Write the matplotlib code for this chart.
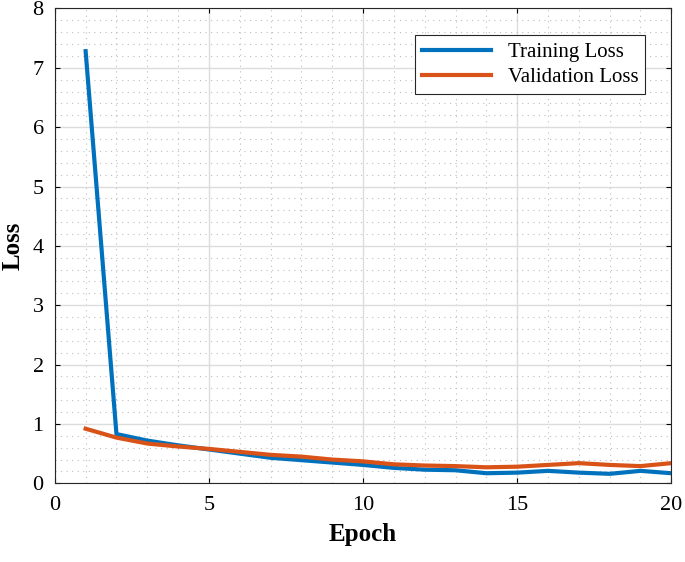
import matplotlib
matplotlib.use("Agg")
import matplotlib.pyplot as plt
from matplotlib.ticker import MultipleLocator

epochs = list(range(1, 21))
train_loss = [7.28, 0.83, 0.72, 0.64, 0.57, 0.50, 0.43, 0.39, 0.35, 0.31,
              0.26, 0.23, 0.22, 0.17, 0.18, 0.21, 0.18, 0.16, 0.21, 0.17]
val_loss = [0.92, 0.77, 0.67, 0.62, 0.58, 0.53, 0.48, 0.45, 0.40, 0.37,
            0.32, 0.30, 0.29, 0.27, 0.28, 0.31, 0.34, 0.31, 0.29, 0.34]

plt.rcParams["font.family"] = "Liberation Serif"
fig = plt.figure(figsize=(6.85, 5.62), dpi=100)
ax = fig.add_axes([0.08, 0.14, 0.90, 0.845])

ax.plot(epochs, train_loss, color="#0072BD", lw=3, label="Training Loss")
ax.plot(epochs, val_loss, color="#D95319", lw=3, label="Validation Loss")

ax.set_xlim(0, 20)
ax.set_ylim(0, 8)
ax.xaxis.set_major_locator(MultipleLocator(5))
ax.xaxis.set_minor_locator(MultipleLocator(1))
ax.yaxis.set_major_locator(MultipleLocator(1))
ax.yaxis.set_minor_locator(MultipleLocator(0.2))
ax.grid(which="major", color="#dcdcdc", lw=1)
ax.grid(which="minor", color="#bdbdbd", lw=0.8, ls=(0, (1, 4)))
ax.set_axisbelow(True)
ax.tick_params(which="both", direction="in", top=True, right=True, labelsize=16)
ax.tick_params(axis="x", pad=9)
ax.tick_params(axis="y", pad=8)
ax.tick_params(which="minor", length=0)
for s in ax.spines.values():
    s.set_color("#262626")

ax.set_xlabel("Epoch", fontsize=18, fontweight="bold", labelpad=6)
ax.set_ylabel("Loss", fontsize=18, fontweight="bold", labelpad=6)
leg = ax.legend(loc="upper right", fontsize=15, fancybox=False, framealpha=1,
                edgecolor="#262626", handlelength=3.3, borderpad=0.35,
                labelspacing=0.25, bbox_to_anchor=(0.975, 0.965))
leg.get_frame().set_linewidth(0.8)

fig.savefig("out.png")
